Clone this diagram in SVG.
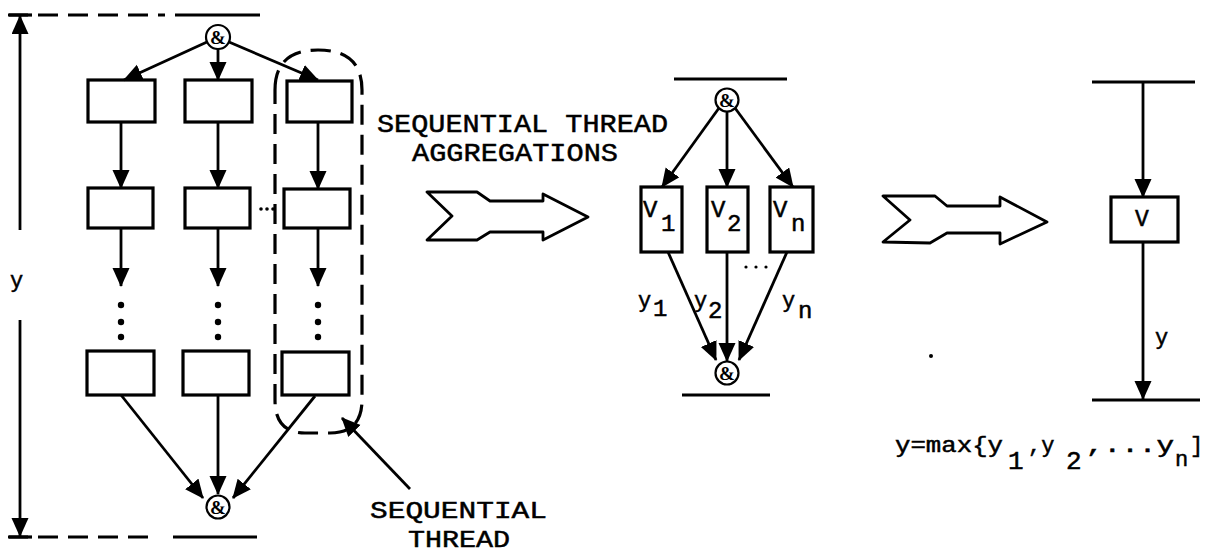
<svg xmlns="http://www.w3.org/2000/svg" width="1213" height="553" viewBox="0 0 1213 553">
<style>
.ln{stroke:#000;stroke-width:2.8;fill:none}
.bar{stroke:#000;stroke-width:3.2;fill:none}
.dash{stroke:#000;stroke-width:3.2;fill:none;stroke-dasharray:20 10}
.box{stroke:#000;stroke-width:3.2;fill:#fff}
.cir{stroke:#000;stroke-width:2.2;fill:#fff}
.t{font-family:"Liberation Mono","DejaVu Sans Mono",monospace;fill:#000;stroke:#000;stroke-width:0.5}
.amp{font-family:"Liberation Serif",serif;font-size:19px;font-weight:bold;text-anchor:middle;fill:#000}
.dot{fill:#000}
.fat{stroke:#000;stroke-width:2.8;fill:#fff;stroke-linejoin:round}
</style>
<defs>
<marker id="ah" markerUnits="userSpaceOnUse" markerWidth="22" markerHeight="18" refX="18" refY="8.5" orient="auto">
<path d="M0,0 L19,8.5 L0,17 Z" fill="#000"/>
</marker>
</defs>

<g id="bounds">
<line class="dash" x1="8" y1="15" x2="165" y2="15"/>
<line class="bar" x1="175" y1="15" x2="260" y2="15"/>
<line class="dash" x1="8" y1="537" x2="155" y2="537"/>
<line class="bar" x1="173" y1="537" x2="257" y2="537"/>
<line class="bar" x1="674" y1="79" x2="787" y2="79"/>
<line class="bar" x1="682" y1="395" x2="770" y2="395"/>
<line class="bar" x1="1092" y1="82" x2="1195" y2="82"/>
<line class="bar" x1="1092" y1="400" x2="1200" y2="400"/>
</g>

<g id="thread-outline">
<path class="dash" d="M275,90 Q275,50 318,50 Q362,50 362,90 L362,400 Q362,433 330,433 L305,433 Q275,433 275,400 Z" stroke-dasharray="18 9"/>
</g>

<g id="and-top-left"><circle class="cir" cx="218" cy="37" r="12"/><text class="amp" x="218" y="44">&amp;</text></g>
<g id="and-bottom-left"><circle class="cir" cx="218" cy="507" r="11.5"/><text class="amp" x="218" y="514">&amp;</text></g>
<g id="and-top-mid"><circle class="cir" cx="727" cy="100" r="11.5"/><text class="amp" x="727" y="107">&amp;</text></g>
<g id="and-bottom-mid"><circle class="cir" cx="727" cy="373" r="11.5"/><text class="amp" x="727" y="380">&amp;</text></g>

<g id="box-r1c1"><rect class="box" x="88" y="80" width="67" height="42"/></g>
<g id="box-r1c2"><rect class="box" x="185" y="80" width="67" height="42"/></g>
<g id="box-r1c3"><rect class="box" x="287" y="81" width="65" height="41"/></g>
<g id="box-r2c1"><rect class="box" x="88" y="188" width="65" height="40"/></g>
<g id="box-r2c2"><rect class="box" x="185" y="188" width="65" height="40"/></g>
<g id="box-r2c3"><rect class="box" x="284" y="189" width="66" height="39"/></g>
<g id="box-r4c1"><rect class="box" x="87" y="351" width="67" height="44"/></g>
<g id="box-r4c2"><rect class="box" x="183" y="351" width="66" height="44"/></g>
<g id="box-r4c3"><rect class="box" x="282" y="352" width="67" height="43"/></g>

<g id="box-v1"><rect class="box" x="641" y="187" width="41" height="65"/><text class="t" x="643" y="217" font-size="24">V</text><text class="t" x="661" y="231" font-size="24">1</text></g>
<g id="box-v2"><rect class="box" x="707" y="187" width="41" height="65"/><text class="t" x="711" y="217" font-size="24">V</text><text class="t" x="727" y="231" font-size="24">2</text></g>
<g id="box-vn"><rect class="box" x="770" y="187" width="43" height="65"/><text class="t" x="773" y="217" font-size="24">V</text><text class="t" x="791" y="231" font-size="24">n</text></g>
<g id="box-v"><rect class="box" x="1111" y="197" width="67" height="45"/><text class="t" x="1135" y="226" font-size="23">V</text></g>

<g id="fat-arrow-1"><polygon class="fat" points="427,192 477,192 490,201 543,201 543,194 588,217 543,240 543,232 490,232 477,240 427,240 452,216"/></g>
<g id="fat-arrow-2"><polygon class="fat" points="883,196 935,196 947,206 1000,206 1000,197 1047,222 1000,244 1000,233 947,233 930,243 883,242 910,220"/></g>

<g id="connectors">
<line class="ln" x1="20" y1="230" x2="20" y2="16" marker-end="url(#ah)"/>
<line class="bar" x1="9" y1="15" x2="32" y2="15"/>
<line class="ln" x1="20" y1="320" x2="20" y2="536" marker-end="url(#ah)"/>
<line class="bar" x1="9" y1="537" x2="32" y2="537"/>

<line class="ln" x1="207" y1="42" x2="124" y2="80" marker-end="url(#ah)"/>
<line class="ln" x1="218" y1="49" x2="218" y2="80" marker-end="url(#ah)"/>
<line class="ln" x1="229" y1="42" x2="318" y2="80" marker-end="url(#ah)"/>
<line class="ln" x1="121" y1="122" x2="121" y2="188" marker-end="url(#ah)"/>
<line class="ln" x1="218" y1="122" x2="218" y2="188" marker-end="url(#ah)"/>
<line class="ln" x1="318" y1="122" x2="318" y2="189" marker-end="url(#ah)"/>
<line class="ln" x1="121" y1="228" x2="121" y2="286" marker-end="url(#ah)"/>
<line class="ln" x1="218" y1="228" x2="218" y2="286" marker-end="url(#ah)"/>
<line class="ln" x1="318" y1="228" x2="318" y2="286" marker-end="url(#ah)"/>
<line class="ln" x1="121" y1="395" x2="203" y2="498" marker-end="url(#ah)"/>
<line class="ln" x1="218" y1="395" x2="218" y2="494" marker-end="url(#ah)"/>
<line class="ln" x1="315" y1="396" x2="233" y2="498" marker-end="url(#ah)"/>
<line class="ln" x1="410" y1="489" x2="342" y2="418" marker-end="url(#ah)"/>

<line class="ln" x1="719" y1="108" x2="662" y2="187" marker-end="url(#ah)"/>
<line class="ln" x1="727" y1="111" x2="727" y2="187" marker-end="url(#ah)"/>
<line class="ln" x1="735" y1="108" x2="793" y2="187" marker-end="url(#ah)"/>
<line class="ln" x1="668" y1="252" x2="716" y2="360" marker-end="url(#ah)"/>
<line class="ln" x1="727" y1="252" x2="727" y2="361" marker-end="url(#ah)"/>
<line class="ln" x1="787" y1="252" x2="739" y2="360" marker-end="url(#ah)"/>

<line class="ln" x1="1143" y1="82" x2="1143" y2="197" marker-end="url(#ah)"/>
<line class="ln" x1="1143" y1="242" x2="1143" y2="399" marker-end="url(#ah)"/>
</g>

<g id="ellipses">
<circle class="dot" cx="121" cy="305" r="3.2"/><circle class="dot" cx="121" cy="322" r="3.2"/><circle class="dot" cx="121" cy="337" r="3.2"/>
<circle class="dot" cx="218" cy="305" r="3.2"/><circle class="dot" cx="218" cy="322" r="3.2"/><circle class="dot" cx="218" cy="337" r="3.2"/>
<circle class="dot" cx="318" cy="305" r="3.2"/><circle class="dot" cx="318" cy="322" r="3.2"/><circle class="dot" cx="318" cy="337" r="3.2"/>
<circle class="dot" cx="261" cy="209" r="1.8"/><circle class="dot" cx="267" cy="209" r="1.8"/><circle class="dot" cx="273" cy="209" r="1.8"/>
<circle class="dot" cx="746" cy="267" r="1.6"/><circle class="dot" cx="756" cy="267" r="1.6"/><circle class="dot" cx="766" cy="267" r="1.6"/>
<circle class="dot" cx="931" cy="356" r="2"/>
</g>

<g id="labels">
<text class="t" x="10" y="287" font-size="22">y</text>
<text class="t" x="377" y="132" font-size="26" textLength="291" lengthAdjust="spacingAndGlyphs">SEQUENTIAL THREAD</text>
<text class="t" x="412" y="161" font-size="26" textLength="206" lengthAdjust="spacingAndGlyphs">AGGREGATIONS</text>
<text class="t" x="370" y="518" font-size="24" textLength="177" lengthAdjust="spacingAndGlyphs">SEQUENTIAL</text>
<text class="t" x="408" y="547" font-size="24" textLength="102" lengthAdjust="spacingAndGlyphs">THREAD</text>
<text class="t" x="638" y="307" font-size="22">y</text><text class="t" x="653" y="316" font-size="24">1</text>
<text class="t" x="694" y="307" font-size="22">y</text><text class="t" x="708" y="318" font-size="24">2</text>
<text class="t" x="782" y="307" font-size="22">y</text><text class="t" x="798" y="318" font-size="24">n</text>
<text class="t" x="1155" y="344" font-size="22">y</text>
<text class="t" x="895" y="452" font-size="22" textLength="108" lengthAdjust="spacingAndGlyphs">y=max{y</text>
<text class="t" x="1008" y="469" font-size="26">1</text>
<text class="t" x="1028" y="452" font-size="22">,y</text>
<text class="t" x="1066" y="469" font-size="26">2</text>
<text class="t" x="1086" y="452" font-size="22" textLength="88" lengthAdjust="spacingAndGlyphs">,...y</text>
<text class="t" x="1175" y="466" font-size="22">n</text>
<text class="t" x="1190" y="452" font-size="22">]</text>
</g>
</svg>
